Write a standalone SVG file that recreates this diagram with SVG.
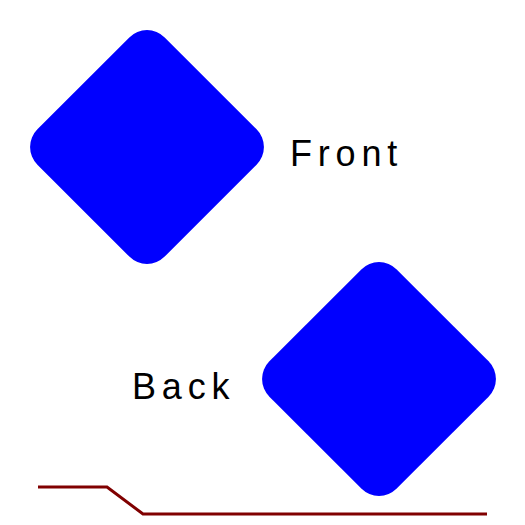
<svg xmlns="http://www.w3.org/2000/svg" width="525" height="525" viewBox="0 0 525 525">
<style>
.d{fill:#0000ff}
.t{font-family:"Liberation Sans",Arial,sans-serif;font-size:36px;letter-spacing:5.8px;fill:#000}
.c{fill:none;stroke:#800000;stroke-width:3}
</style>
<rect width="525" height="525" fill="#fff"/>
<g id="front">
<rect class="d" x="-90" y="-90" width="180" height="180" rx="25" transform="translate(147,147) rotate(45)"/>
<text class="t" x="290" y="166">Front</text>
</g>
<g id="back">
<rect class="d" x="-90" y="-90" width="180" height="180" rx="25" transform="translate(379,379) rotate(45)"/>
<text class="t" x="132" y="399">Back</text>
</g>
<g id="connectors">
<polyline class="c" points="38,487 107,487 143,514 487,514"/>
</g>
</svg>
